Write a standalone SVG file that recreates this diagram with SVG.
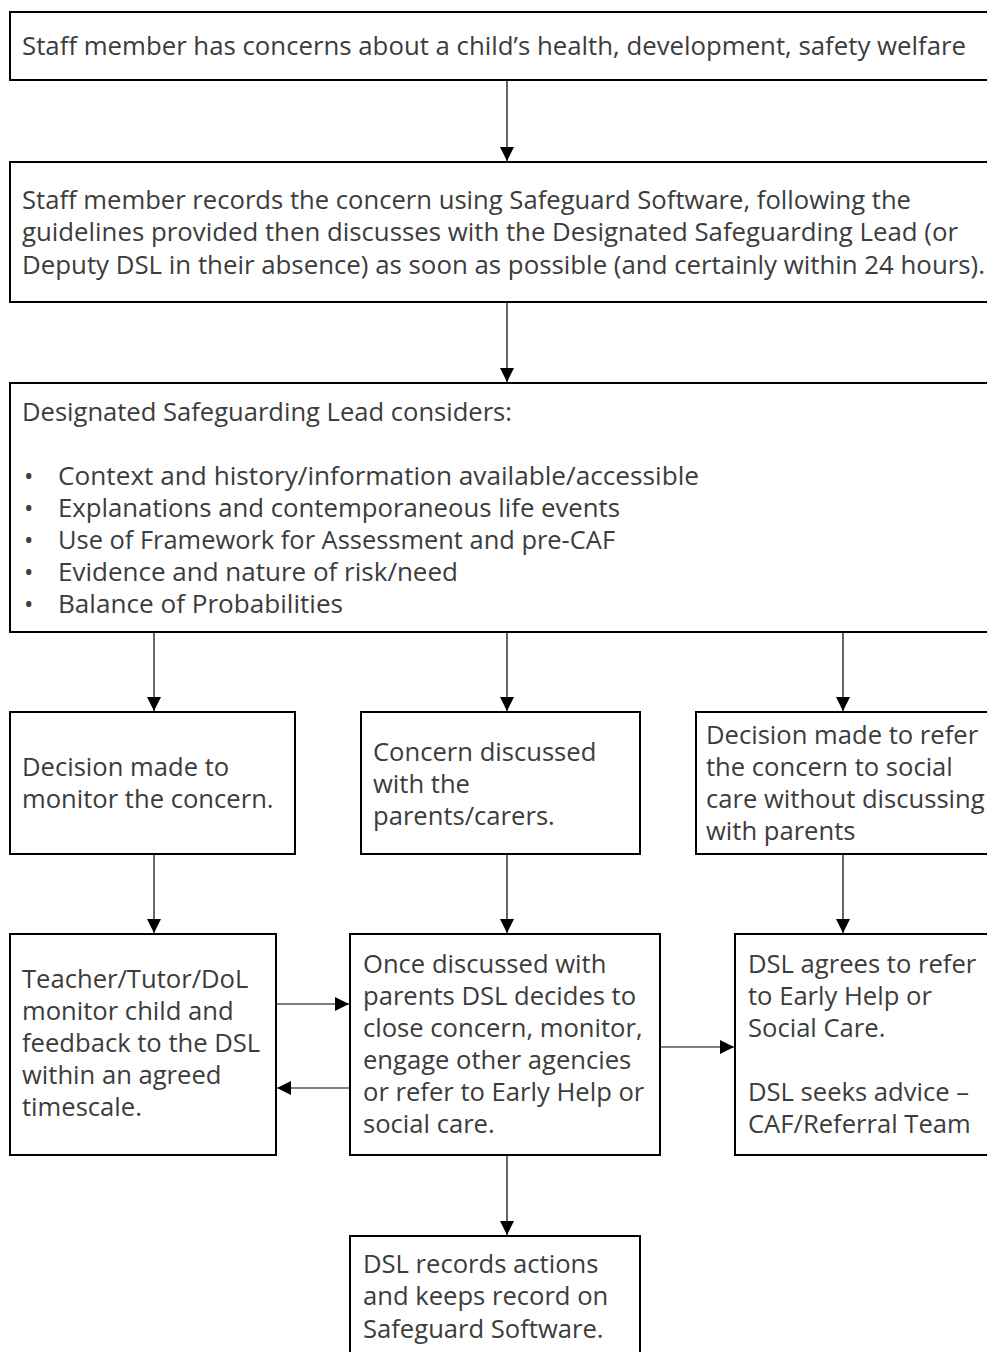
<svg xmlns="http://www.w3.org/2000/svg" width="987" height="1352" viewBox="0 0 987 1352">
<style>
.box{fill:#fff;stroke:#000;stroke-width:2}
.t{font-family:"Open Sans","Noto Sans",sans-serif;font-size:25px;fill:#3c3c3c}
.s{font-size:25.6px}
.c{stroke:#000;stroke-width:1.2;fill:none}
</style>
<defs>
<marker id="ah" viewBox="0 0 10 10" refX="10" refY="5" markerWidth="14" markerHeight="14" markerUnits="userSpaceOnUse" orient="auto">
<path d="M0,0 L10,5 L0,10 z" fill="#000"/>
</marker>
</defs>
<rect width="987" height="1352" fill="#fff"/>
<g id="connectors">
<line class="c" x1="507" y1="81" x2="507" y2="161" marker-end="url(#ah)"/>
<line class="c" x1="507" y1="303" x2="507" y2="382" marker-end="url(#ah)"/>
<line class="c" x1="154" y1="633" x2="154" y2="711" marker-end="url(#ah)"/>
<line class="c" x1="507" y1="633" x2="507" y2="711" marker-end="url(#ah)"/>
<line class="c" x1="843" y1="633" x2="843" y2="711" marker-end="url(#ah)"/>
<line class="c" x1="154" y1="855" x2="154" y2="933" marker-end="url(#ah)"/>
<line class="c" x1="507" y1="855" x2="507" y2="933" marker-end="url(#ah)"/>
<line class="c" x1="843" y1="855" x2="843" y2="933" marker-end="url(#ah)"/>
<line class="c" x1="277" y1="1004" x2="349" y2="1004" marker-end="url(#ah)"/>
<line class="c" x1="349" y1="1088" x2="277" y2="1088" marker-end="url(#ah)"/>
<line class="c" x1="661" y1="1047" x2="734" y2="1047" marker-end="url(#ah)"/>
<line class="c" x1="507" y1="1156" x2="507" y2="1235" marker-end="url(#ah)"/>
</g>
<g id="n1">
<rect class="box" x="10" y="12" width="990" height="68"/>
<text class="t" x="22" y="55" textLength="944" lengthAdjust="spacingAndGlyphs">Staff member has concerns about a child’s health, development, safety welfare</text>
</g>
<g id="n2">
<rect class="box" x="10" y="162" width="990" height="140"/>
<text class="t" x="22" y="209" textLength="889" lengthAdjust="spacingAndGlyphs">Staff member records the concern using Safeguard Software, following the</text>
<text class="t" x="22" y="241" textLength="936" lengthAdjust="spacingAndGlyphs">guidelines provided then discusses with the Designated Safeguarding Lead (or</text>
<text class="t" x="22" y="274" textLength="963" lengthAdjust="spacingAndGlyphs">Deputy DSL in their absence) as soon as possible (and certainly within 24 hours).</text>
</g>
<g id="n3">
<rect class="box" x="10" y="383" width="990" height="249"/>
<text class="t" x="22" y="421" textLength="490" lengthAdjust="spacingAndGlyphs">Designated Safeguarding Lead considers:</text>
<text class="t" x="24" y="485">•</text>
<text class="t" x="24" y="517">•</text>
<text class="t" x="24" y="549">•</text>
<text class="t" x="24" y="581">•</text>
<text class="t" x="24" y="613">•</text>
<text class="t" x="58" y="485" textLength="641" lengthAdjust="spacingAndGlyphs">Context and history/information available/accessible</text>
<text class="t" x="58" y="517" textLength="562" lengthAdjust="spacingAndGlyphs">Explanations and contemporaneous life events</text>
<text class="t" x="58" y="549" textLength="557" lengthAdjust="spacingAndGlyphs">Use of Framework for Assessment and pre-CAF</text>
<text class="t" x="58" y="581" textLength="400" lengthAdjust="spacingAndGlyphs">Evidence and nature of risk/need</text>
<text class="t" x="58" y="613" textLength="285" lengthAdjust="spacingAndGlyphs">Balance of Probabilities</text>
</g>
<g id="n4">
<rect class="box" x="10" y="712" width="285" height="142"/>
<text class="t s" x="22" y="776">Decision made to</text>
<text class="t s" x="22" y="808">monitor the concern.</text>
</g>
<g id="n5">
<rect class="box" x="361" y="712" width="279" height="142"/>
<text class="t s" x="373" y="761">Concern discussed</text>
<text class="t s" x="373" y="793">with the</text>
<text class="t s" x="373" y="825">parents/carers.</text>
</g>
<g id="n6">
<rect class="box" x="696" y="712" width="304" height="142"/>
<text class="t s" x="706" y="744">Decision made to refer</text>
<text class="t s" x="706" y="776">the concern to social</text>
<text class="t s" x="706" y="808">care without discussing</text>
<text class="t s" x="706" y="840">with parents</text>
</g>
<g id="n7">
<rect class="box" x="10" y="934" width="266" height="221"/>
<text class="t s" x="22" y="988">Teacher/Tutor/DoL</text>
<text class="t s" x="22" y="1020">monitor child and</text>
<text class="t s" x="22" y="1052">feedback to the DSL</text>
<text class="t s" x="22" y="1084">within an agreed</text>
<text class="t s" x="22" y="1116">timescale.</text>
</g>
<g id="n8">
<rect class="box" x="350" y="934" width="310" height="221"/>
<text class="t s" x="363" y="973">Once discussed with</text>
<text class="t s" x="363" y="1005">parents DSL decides to</text>
<text class="t s" x="363" y="1037">close concern, monitor,</text>
<text class="t s" x="363" y="1069">engage other agencies</text>
<text class="t s" x="363" y="1101">or refer to Early Help or</text>
<text class="t s" x="363" y="1133">social care.</text>
</g>
<g id="n9">
<rect class="box" x="735" y="934" width="265" height="221"/>
<text class="t s" x="748" y="973">DSL agrees to refer</text>
<text class="t s" x="748" y="1005">to Early Help or</text>
<text class="t s" x="748" y="1037">Social Care.</text>
<text class="t s" x="748" y="1101">DSL seeks advice –</text>
<text class="t s" x="748" y="1133">CAF/Referral Team</text>
</g>
<g id="n10">
<rect class="box" x="350" y="1236" width="290" height="130"/>
<text class="t s" x="363" y="1273">DSL records actions</text>
<text class="t s" x="363" y="1305">and keeps record on</text>
<text class="t s" x="363" y="1338">Safeguard Software.</text>
</g>
</svg>
